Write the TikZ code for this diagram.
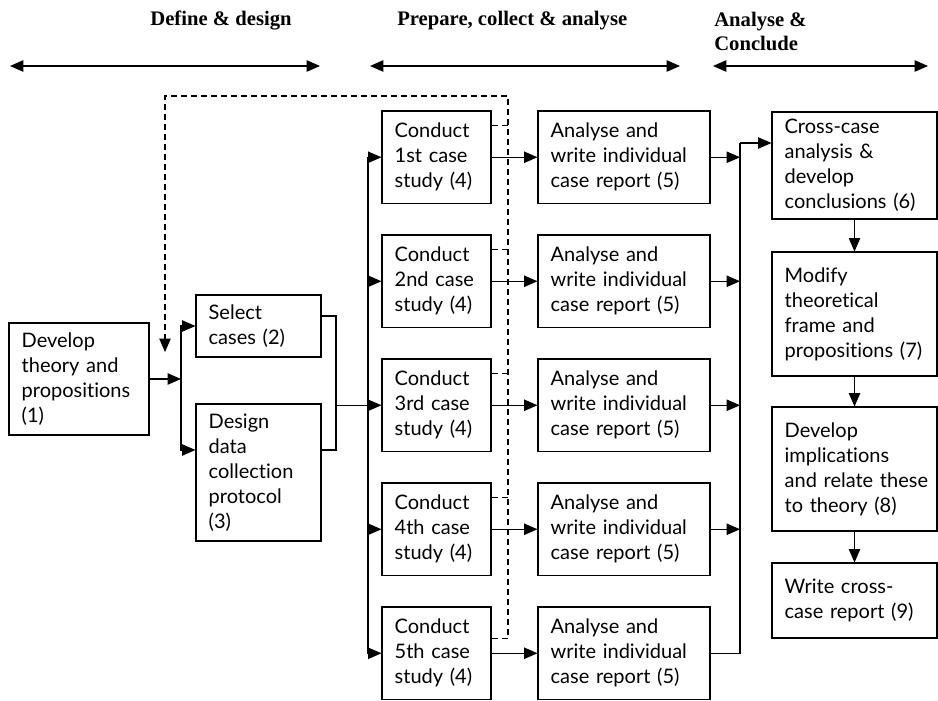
\documentclass[tikz,border=0pt]{standalone}
\usepackage{fontspec}
\setmainfont{Lato}[Ligatures=NoCommon]
\newfontfamily\headfont{Liberation Serif}
\usetikzlibrary{arrows.meta,calc}

\tikzset{
    box/.style={draw, line width=0.8pt, inner xsep=9.5pt, inner ysep=0pt, align=left,
        font=\fontsize{15}{18.75}\selectfont},
    arr/.style={-{Triangle[length=10pt,width=8.5pt]}, line width=0.8pt},
    harr/.style={{Triangle[length=10pt,width=8.5pt]}-{Triangle[length=10pt,width=8.5pt]}, line width=1pt},
    head/.style={font=\headfont\bfseries\fontsize{15.5}{18}\selectfont, align=left, inner sep=0pt},
    feedback/.style={dashed, dash pattern=on 4.5pt off 3pt, line width=0.8pt}
}

\begin{document}
\begin{tikzpicture}[x=0.75pt, y=-0.75pt]
    \useasboundingbox (0,0) rectangle (938,700);

    % Phase headers
    \node[head] (hdef) at (221,21) {Define \& design};
    \node[head, anchor=west] (hprep) at (397,21) {Prepare, collect \& analyse};
    \node[head, anchor=north west] (hcon) at (714,12) {Analyse \&\\Conclude};
    \coordinate (d1) at (10,66);  \coordinate (d2) at (320,66);
    \coordinate (p1) at (370,66); \coordinate (p2) at (680,66);
    \coordinate (k1) at (713,66); \coordinate (k2) at (928,66);
    \draw[harr] (d1) -- (d2);
    \draw[harr] (p1) -- (p2);
    \draw[harr] (k1) -- (k2);

    % Draw nodes
    \node[box, text width=86pt, minimum height=84pt] (dev) at (79,379) {Develop\\theory and\\propositions\\(1)};
    \node[box, text width=74.75pt, minimum height=46.5pt] (sel) at (258.5,326) {Select\\cases (2)};
    \node[box, text width=74.75pt, minimum height=102.75pt] (des) at (258.5,472.5) {Design\\data\\collection\\protocol\\(3)};

    \foreach \k/\nth in {1/1st, 2/2nd, 3/3rd, 4/4th, 5/5th} {
        \node[box, text width=62.75pt, minimum height=69.4pt] (c\k) at (436.5,{157.25+124*(\k-1)}) {Conduct\\\nth{} case\\study (4)};
        \node[box, text width=110pt, minimum height=69.4pt] (a\k) at (624,{157.25+124*(\k-1)}) {Analyse and\\write individual\\case report (5)};
    }

    \node[box, text width=104.75pt, minimum height=80.25pt] (cross) at (854.5,165.5) {Cross-case\\analysis \&\\develop\\conclusions (6)};
    \node[box, text width=104.75pt, minimum height=93pt] (modify) at (854.5,314) {Modify\\theoretical\\frame and\\propositions (7)};
    \node[box, text width=104.75pt, minimum height=93pt] (implic) at (854.5,469) {Develop\\implications\\\mbox{and relate these}\\to theory (8)};
    \node[box, text width=104.75pt, minimum height=56.25pt] (report) at (854.5,600.5) {Write cross-\\case report (9)\\[6pt]};

    % Draw connections
    \coordinate (ja) at (181,379);
    \draw[arr] (dev) -- (ja);
    \draw[arr] (ja) |- (sel);
    \draw[arr] (ja) |- ($(des.west)+(0,-22.5)$);

    \coordinate (jb) at (336,405.25);
    \draw[line width=0.8pt] ($(sel.east)+(0,-10)$) -| (jb) |- ($(des.east)+(0,-22.5)$);
    \coordinate (jc) at (368,405.25);
    \draw[line width=0.8pt] (jb) -- (jc);
    \foreach \k in {1,...,5} {
        \draw[arr] (jc) |- (c\k);
        \draw[arr] (c\k) -- (a\k);
    }

    \coordinate (jr) at (740,143);
    \foreach \k in {1,...,4} {
        \draw[arr] (a\k) -- (a\k -| jr);
    }
    \draw[line width=0.8pt] (a5) -| (jr);
    \draw[arr] (jr) -- (jr -| cross.west);

    \draw[arr] (cross) -- (modify);
    \draw[arr] (modify) -- (implic);
    \draw[arr] (implic) -- (report);

    % Feedback loop
    \coordinate (fb) at (165,352);
    \coordinate (ftop) at (508,96);
    \foreach \k in {1,...,4} {
        \draw[feedback] ($(c\k.north east)+(0,15)$) -- ++(17,0);
    }
    \draw[feedback, arr] ($(c5.north east)+(0,32)$) -| (ftop) -| (fb);
\end{tikzpicture}
\end{document}
